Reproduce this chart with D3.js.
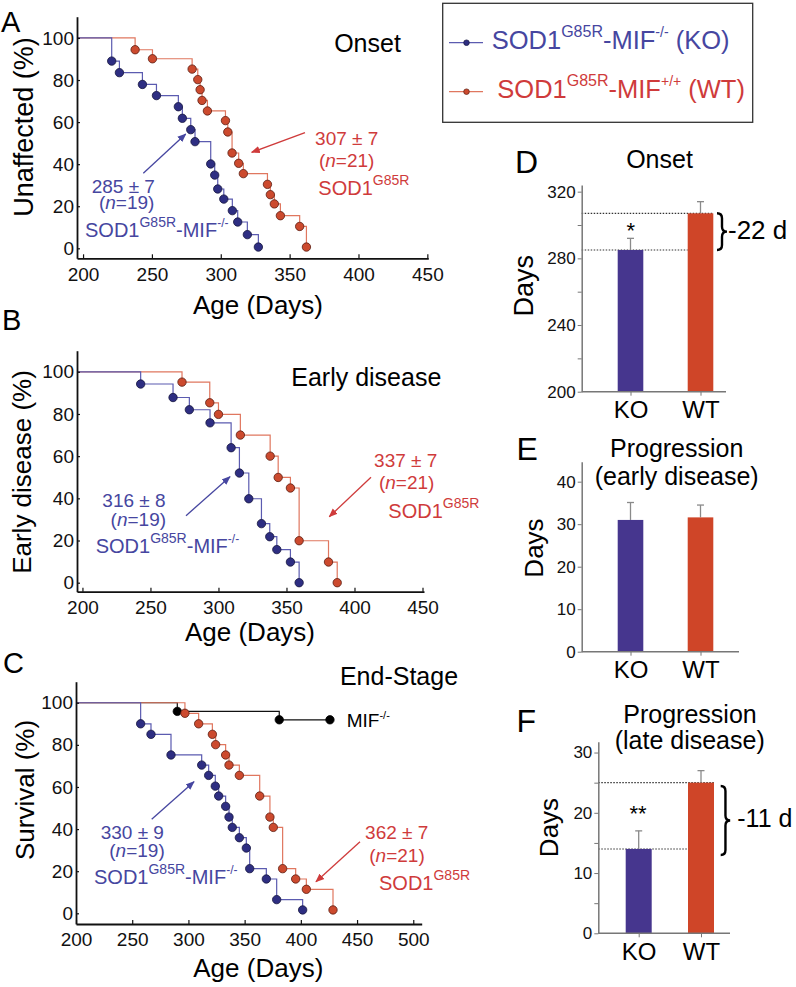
<!DOCTYPE html>
<html><head><meta charset="utf-8">
<script src="https://cdn.jsdelivr.net/npm/d3@7"></script>
<style>
html,body{margin:0;padding:0;background:#fff;}
svg{display:block;font-family:"Liberation Sans",Arial,Helvetica,sans-serif;}
</style></head>
<body>
<svg id="chart" width="796" height="987"></svg>
<script>
// ---------- DATA ----------
// Panel A : Onset (days, % unaffected after each event)
const A_KO_days = [220.8,226.4,243.1,253.3,269.2,272.1,278.2,281.3,292.7,295.6,297.8,302.2,308.4,312.3,319.3,327.3];
const A_KO_pct  = [89.0,83.5,77.9,72.6,67.3,61.8,56.4,50.7,40.1,34.8,28.2,23.4,17.9,12.5,6.5,0.6];
const A_WT_days = [237.8,250.4,279.2,283.3,285.0,286.4,290.3,303.4,305.1,308.2,313.0,316.4,333.9,336.0,338.9,343.3,357.3,362.2];
const A_WT_pct  = [94.4,90.1,85.2,80.2,75.4,70.3,65.3,60.7,55.3,45.3,40.4,35.5,30.4,25.5,21.1,15.5,10.4,0.6];
// Panel B : Early disease
const B_KO_days = [242.8,266.6,278.6,293.8,309.3,315.4,322.3,331.6,337.7,342.9,352.9,359.3];
const B_KO_pct  = [94.2,87.8,82.0,75.8,64.0,52.0,39.8,28.0,21.8,15.7,9.8,0];
const B_WT_days = [273.2,293.6,300.0,316.1,338.0,343.9,352.9,359.3,380.9,387.3];
const B_WT_pct  = [95.1,85.3,79.8,70.0,60.0,49.9,44.9,19.9,9.8,0];
// Panel C : End-stage survival
const C_KO_days = [257.5,266.7,284.5,311.8,318.0,323.9,326.9,333.1,336.1,339.0,345.3,351.5,354.5,369.3,378.5,401.6];
const C_KO_pct  = [90.0,85.0,75.2,70.4,65.5,60.4,55.7,50.8,45.7,40.8,35.9,31.0,21.2,16.3,6.5,1.6];
const C_WT_days = [296.9,309.1,321.3,324.2,333.1,336.1,345.3,363.4,372.5,375.5,383.8,395.4,404.9,428.6];
const C_WT_pct  = [95.0,90.0,85.0,80.1,75.2,70.4,65.5,55.7,45.7,40.8,21.2,16.3,11.4,1.6];
const C_MIF_days = [290.1,380.8,425.9];
const C_MIF_pct  = [95.9,91.9,91.9];
// axis ticks
const xTicksAB = [200,250,300,350,400,450];
const xTicksC  = [200,250,300,350,400,450,500];
const yTicksSurv = [0,20,40,60,80,100];
// Bar panels
const groups = ["KO","WT"];
const onsetMean = [285,307];
const onsetErr  = [7,7];
const earlyMean = [31.0,31.6];
const earlyErr  = [4.1,2.9];
const lateMean  = [14,25];
const lateErr   = [3,2];
const dTicks = [200,240,280,320], dMinor = [220,260,300];
const eTicks = [0,10,20,30,40];
const fTicks = [0,10,20,30], fMinor = [5,15,25];

// ---------- STYLE ----------
const BLUE_LINE="#5b5bb0", BLUE_DOT="#2e2e82", BLUE_DOT_S="#15153d", BLUE_TXT="#4646a0";
const RED_LINE="#e0775f", RED_DOT="#cc4a2e", RED_DOT_S="#5a1c10", RED_TXT="#cf3b3b";
const KO_BAR="#46368e", WT_BAR="#cf4528";

const svg = d3.select("#chart");
const defs = svg.append("defs");
function marker(id,color){
  defs.append("marker").attr("id",id).attr("viewBox","0 0 10 10").attr("refX",9).attr("refY",5)
   .attr("markerWidth",9).attr("markerHeight",9).attr("markerUnits","userSpaceOnUse").attr("orient","auto")
   .append("path").attr("d","M0,1 L10,5 L0,9 Z").attr("fill",color);
}
marker("arrB",BLUE_TXT); marker("arrR",RED_TXT);

function rich(x,y,parts,opt){
  const t = svg.append("text").attr("x",x).attr("y",y).attr("fill",opt.fill||"#000")
    .attr("font-size",opt.size).attr("text-anchor",opt.anchor||"start");
  let raised=0;
  parts.forEach(p=>{
    const s = t.append("tspan").text(p.t);
    if(p.sup){ s.attr("font-size",p.sup).attr("dy",-(p.r)-raised); raised=p.r; }
    else { if(raised){ s.attr("dy",raised); raised=0;} }
    if(p.i) s.attr("font-style","italic");
  });
  return t;
}
function txt(x,y,s,size,opt={}){
  return svg.append("text").attr("x",x).attr("y",y).text(s).attr("font-size",size)
   .attr("fill",opt.fill||"#000").attr("text-anchor",opt.anchor||"start");
}
function arrow(x1,y1,x2,y2,color,id){
  svg.append("line").attr("x1",x1).attr("y1",y1).attr("x2",x2).attr("y2",y2)
    .attr("stroke",color).attr("stroke-width",1.3).attr("marker-end",`url(#${id})`);
}
function vlabel(x,y,s,size){
  svg.append("text").attr("transform",`translate(${x},${y}) rotate(-90)`).attr("text-anchor","middle")
    .attr("font-size",size).attr("fill","#000").text(s);
}

// ---------- SURVIVAL PANELS ----------
function survPanel(cfg){
  const x = d3.scaleLinear().domain(cfg.xDom).range(cfg.xRange);
  const y = d3.scaleLinear().domain(cfg.yDom).range(cfg.yRange);
  const g = svg.append("g");
  const line = d3.line().x(d=>x(d[0])).y(d=>y(d[1])).curve(d3.curveStepAfter);
  cfg.series.forEach(s=>{
    const pts = [[cfg.xDom[0],100]].concat(s.days.map((d,i)=>[d,s.pct[i]]));
    g.append("path").attr("d",line(pts)).attr("fill","none").attr("stroke",s.line).attr("stroke-width",1.2);
  });
  cfg.series.forEach(s=>{
    g.selectAll(null).data(s.days.map((d,i)=>[d,s.pct[i]])).join("circle")
      .attr("cx",d=>x(d[0])).attr("cy",d=>y(d[1])).attr("r",4.2)
      .attr("fill",s.dot).attr("stroke",s.dotS).attr("stroke-width",0.8);
  });
  const ax = g.append("g").attr("transform",`translate(0,${cfg.yRange[0]})`)
    .call(d3.axisBottom(x).tickValues(cfg.xTicks).tickSize(-4).tickSizeOuter(0).tickPadding(9).tickFormat(d3.format("d")));
  const ay = g.append("g").attr("transform",`translate(${cfg.xRange[0]},0)`)
    .call(d3.axisLeft(y).tickValues(yTicksSurv).tickSize(-3).tickSizeOuter(0).tickPadding(3));
  [ax,ay].forEach(a=>{
    a.attr("font-family",null).attr("font-size",19);
    a.select(".domain").attr("stroke","#111").attr("stroke-width",1.8);
    a.selectAll(".tick line").attr("stroke","#111").attr("stroke-width",1.2);
    a.selectAll(".tick text").attr("fill","#111");
  });
}

survPanel({xDom:[195.6,450.7], xRange:[77,428.3], yDom:[-4.75,110.1], yRange:[258.3,16.7], xTicks:xTicksAB,
  series:[{days:A_WT_days,pct:A_WT_pct,line:RED_LINE,dot:RED_DOT,dotS:RED_DOT_S},
          {days:A_KO_days,pct:A_KO_pct,line:BLUE_LINE,dot:BLUE_DOT,dotS:BLUE_DOT_S}]});
survPanel({xDom:[196,451.1], xRange:[77,424], yDom:[-4.27,110], yRange:[591.7,350.7], xTicks:xTicksAB,
  series:[{days:B_WT_days,pct:B_WT_pct,line:RED_LINE,dot:RED_DOT,dotS:RED_DOT_S},
          {days:B_KO_days,pct:B_KO_pct,line:BLUE_LINE,dot:BLUE_DOT,dotS:BLUE_DOT_S}]});
survPanel({xDom:[200,507.5], xRange:[76,421.7], yDom:[-5.08,110], yRange:[924,681.7], xTicks:xTicksC,
  series:[{days:C_MIF_days,pct:C_MIF_pct,line:"#111",dot:"#000",dotS:"#000"},
          {days:C_WT_days,pct:C_WT_pct,line:RED_LINE,dot:RED_DOT,dotS:RED_DOT_S},
          {days:C_KO_days,pct:C_KO_pct,line:BLUE_LINE,dot:BLUE_DOT,dotS:BLUE_DOT_S}]});

// panel letters
txt(1,31.7,"A",29); txt(2,330,"B",29); txt(3,673.3,"C",29);
txt(515,173.3,"D",32); txt(516.5,460,"E",32); txt(516.5,731.7,"F",32);

// titles
txt(367.5,51.7,"Onset",25,{anchor:"middle"});
txt(366.3,386,"Early disease",25,{anchor:"middle"});
txt(399,685,"End-Stage",25,{anchor:"middle"});
rich(346.7,726.7,[{t:"MIF"},{t:"-/-",sup:11,r:8}],{size:19});

// axis titles
vlabel(33,127,"Unaffected (%)",27);
vlabel(31,472,"Early disease (%)",26);
vlabel(34,790,"Survival (%)",26);
txt(258,314,"Age (Days)",26,{anchor:"middle"});
txt(250,641,"Age (Days)",26,{anchor:"middle"});
txt(258.3,976.7,"Age (Days)",26,{anchor:"middle"});

// annotations A
txt(123.3,192.7,"285 ± 7",19,{anchor:"middle",fill:BLUE_TXT});
rich(126.7,209.3,[{t:"("},{t:"n",i:1},{t:"=19)"}],{size:19,anchor:"middle",fill:BLUE_TXT});
rich(85,237.3,[{t:"SOD1"},{t:"G85R",sup:14,r:10},{t:"-MIF"},{t:"-/-",sup:12,r:10}],{size:20,fill:BLUE_TXT});
arrow(143.3,173.3,185.7,134,BLUE_TXT,"arrB");
txt(346.7,145,"307 ± 7",19,{anchor:"middle",fill:RED_TXT});
rich(346.7,166.7,[{t:"("},{t:"n",i:1},{t:"=21)"}],{size:19,anchor:"middle",fill:RED_TXT});
rich(318.3,195,[{t:"SOD1"},{t:"G85R",sup:14,r:10}],{size:20,fill:RED_TXT});
arrow(305,132.7,251.7,152.3,RED_TXT,"arrR");
// annotations B
txt(134,507.3,"316 ± 8",19,{anchor:"middle",fill:BLUE_TXT});
rich(138.3,526,[{t:"("},{t:"n",i:1},{t:"=19)"}],{size:19,anchor:"middle",fill:BLUE_TXT});
rich(95.7,553.3,[{t:"SOD1"},{t:"G85R",sup:14,r:10},{t:"-MIF"},{t:"-/-",sup:12,r:10}],{size:20,fill:BLUE_TXT});
arrow(186,515.7,230,476.7,BLUE_TXT,"arrB");
txt(405.7,467.3,"337 ± 7",19,{anchor:"middle",fill:RED_TXT});
rich(406.7,489.3,[{t:"("},{t:"n",i:1},{t:"=21)"}],{size:19,anchor:"middle",fill:RED_TXT});
rich(388.3,518.3,[{t:"SOD1"},{t:"G85R",sup:14,r:10}],{size:20,fill:RED_TXT});
arrow(371,477.3,329.3,516.7,RED_TXT,"arrR");
// annotations C
txt(132.3,839,"330 ± 9",19,{anchor:"middle",fill:BLUE_TXT});
rich(137,856.7,[{t:"("},{t:"n",i:1},{t:"=19)"}],{size:19,anchor:"middle",fill:BLUE_TXT});
rich(94,884.3,[{t:"SOD1"},{t:"G85R",sup:14,r:10},{t:"-MIF"},{t:"-/-",sup:12,r:10}],{size:20,fill:BLUE_TXT});
arrow(151.7,819.3,194,781.7,BLUE_TXT,"arrB");
txt(396.7,839,"362 ± 7",19,{anchor:"middle",fill:RED_TXT});
rich(397,861.7,[{t:"("},{t:"n",i:1},{t:"=21)"}],{size:19,anchor:"middle",fill:RED_TXT});
rich(379,890,[{t:"SOD1"},{t:"G85R",sup:14,r:10}],{size:20,fill:RED_TXT});
arrow(360,841.7,316,881.7,RED_TXT,"arrR");

// ---------- LEGEND ----------
svg.append("rect").attr("x",442.7).attr("y",3.3).attr("width",310).attr("height",119)
  .attr("fill","none").attr("stroke","#333").attr("stroke-width",1.3);
[[42.7,BLUE_LINE,BLUE_DOT,BLUE_DOT_S],[91.7,RED_LINE,RED_DOT,RED_DOT_S]].forEach(r=>{
  svg.append("line").attr("x1",449).attr("x2",483).attr("y1",r[0]).attr("y2",r[0]).attr("stroke",r[1]).attr("stroke-width",1.3);
  svg.append("circle").attr("cx",466.5).attr("cy",r[0]).attr("r",2.8).attr("fill",r[2]).attr("stroke",r[3]).attr("stroke-width",0.7);
});
rich(491.7,49,[{t:"SOD1"},{t:"G85R",sup:16,r:12},{t:"-MIF"},{t:"-/-",sup:14,r:12},{t:" (KO)"}],{size:25.5,fill:BLUE_TXT});
rich(497.3,98.3,[{t:"SOD1"},{t:"G85R",sup:16,r:12},{t:"-MIF"},{t:"+/+",sup:14,r:12},{t:" (WT)"}],{size:25.5,fill:RED_TXT});

// ---------- BAR PANELS ----------
function barPanel(cfg){
  const y = d3.scaleLinear().domain(cfg.yDom).range(cfg.yRange);
  const x = d3.scalePoint().domain(groups).range(cfg.centers);
  const g = svg.append("g");
  const base = cfg.yRange[0];
  (cfg.refs||[]).forEach(r=>{
    g.append("line").attr("x1",cfg.x0).attr("x2",r.to).attr("y1",y(r.v)).attr("y2",y(r.v))
     .attr("stroke","#333").attr("stroke-width",1.1).attr("stroke-dasharray","1.5,1.5");
  });
  g.selectAll(null).data(groups).join("line")
    .attr("x1",d=>x(d)).attr("x2",d=>x(d))
    .attr("y1",(d,i)=>y(cfg.mean[i])).attr("y2",(d,i)=>y(cfg.mean[i]+cfg.err[i]))
    .attr("stroke","#8a8a8a").attr("stroke-width",1.3);
  g.selectAll(null).data(groups).join("line")
    .attr("x1",d=>x(d)-3.5).attr("x2",d=>x(d)+3.5)
    .attr("y1",(d,i)=>y(cfg.mean[i]+cfg.err[i])).attr("y2",(d,i)=>y(cfg.mean[i]+cfg.err[i]))
    .attr("stroke","#8a8a8a").attr("stroke-width",1.3);
  g.selectAll(null).data(groups).join("rect")
    .attr("x",d=>x(d)-cfg.bw/2).attr("width",cfg.bw)
    .attr("y",(d,i)=>y(cfg.mean[i])).attr("height",(d,i)=>base-y(cfg.mean[i]))
    .attr("fill",(d,i)=>i?WT_BAR:KO_BAR);
  const ay = g.append("g").attr("transform",`translate(${cfg.x0},0)`)
    .call(d3.axisLeft(y).tickValues(cfg.ticks).tickSize(4).tickSizeOuter(0).tickPadding(2));
  if(cfg.minor) g.append("g").attr("transform",`translate(${cfg.x0},0)`)
    .call(d3.axisLeft(y).tickValues(cfg.minor).tickSize(4).tickSizeOuter(0).tickFormat(""))
    .call(a=>{a.select(".domain").remove(); a.selectAll("line").attr("stroke","#777");});
  const ax = g.append("g").attr("transform",`translate(0,${base})`)
    .call(d3.axisBottom(x).tickSize(4).tickSizeOuter(0).tickPadding(5.5));
  ax.select(".domain").remove();
  g.append("line").attr("x1",cfg.x0).attr("x2",cfg.x1).attr("y1",base).attr("y2",base).attr("stroke","#777").attr("stroke-width",1.5);
  ay.attr("font-family",null).attr("font-size",17);
  ay.select(".domain").attr("stroke","#777").attr("stroke-width",1.5);
  ay.selectAll(".tick line").attr("stroke","#777");
  ay.selectAll(".tick text").attr("fill","#111");
  ax.attr("font-family",null).attr("font-size",24);
  ax.selectAll(".tick line").attr("stroke","#777");
  ax.selectAll(".tick text").attr("fill","#000");
}
function brace(x,y1,y2,w){
  const ym=(y1+y2)/2, r=Math.min(5,(y2-y1)/6), h=w/2;
  svg.append("path").attr("d",
   `M${x},${y1} Q${x+h},${y1} ${x+h},${y1+r} L${x+h},${ym-r} Q${x+h},${ym} ${x+w},${ym} Q${x+h},${ym} ${x+h},${ym+r} L${x+h},${y2-r} Q${x+h},${y2} ${x},${y2}`)
   .attr("fill","none").attr("stroke","#000").attr("stroke-width",2.4);
}

// D
barPanel({yDom:[200,324], yRange:[391.7,185], x0:581.7, x1:726, centers:[630.5,700.5], bw:25.6,
  mean:onsetMean, err:onsetErr, ticks:dTicks, minor:dMinor,
  refs:[{v:onsetMean[1],to:713.3},{v:onsetMean[0],to:687.7}]});
txt(659.5,168.3,"Onset",25,{anchor:"middle"});
vlabel(533,285.7,"Days",27);
txt(630.7,238,"*",22,{anchor:"middle"});
brace(717,213.3,250,10);
txt(728,239.3,"-22 d",26);

// E
barPanel({yDom:[0,44.7], yRange:[651.7,461.7], x0:581.7, x1:739, centers:[630.5,700.5], bw:25.6,
  mean:earlyMean, err:earlyErr, ticks:eTicks});
txt(676.7,456.7,"Progression",25,{anchor:"middle"});
txt(676.7,485,"(early disease)",25,{anchor:"middle"});
vlabel(543,548,"Days",26);

// F
barPanel({yDom:[0,31.8], yRange:[933.3,741.7], x0:598.3, x1:730, centers:[638.7,701], bw:26,
  mean:lateMean, err:lateErr, ticks:fTicks, minor:fMinor,
  refs:[{v:lateMean[1],to:714},{v:lateMean[0],to:688.3}]});
txt(690,722.7,"Progression",25,{anchor:"middle"});
txt(689.7,749.3,"(late disease)",25,{anchor:"middle"});
vlabel(558,827.5,"Days",26);
txt(638,821,"**",22,{anchor:"middle"});
brace(720.7,786,855,9.5);
txt(737.3,826.7,"-11 d",25);
</script>
</body></html>
